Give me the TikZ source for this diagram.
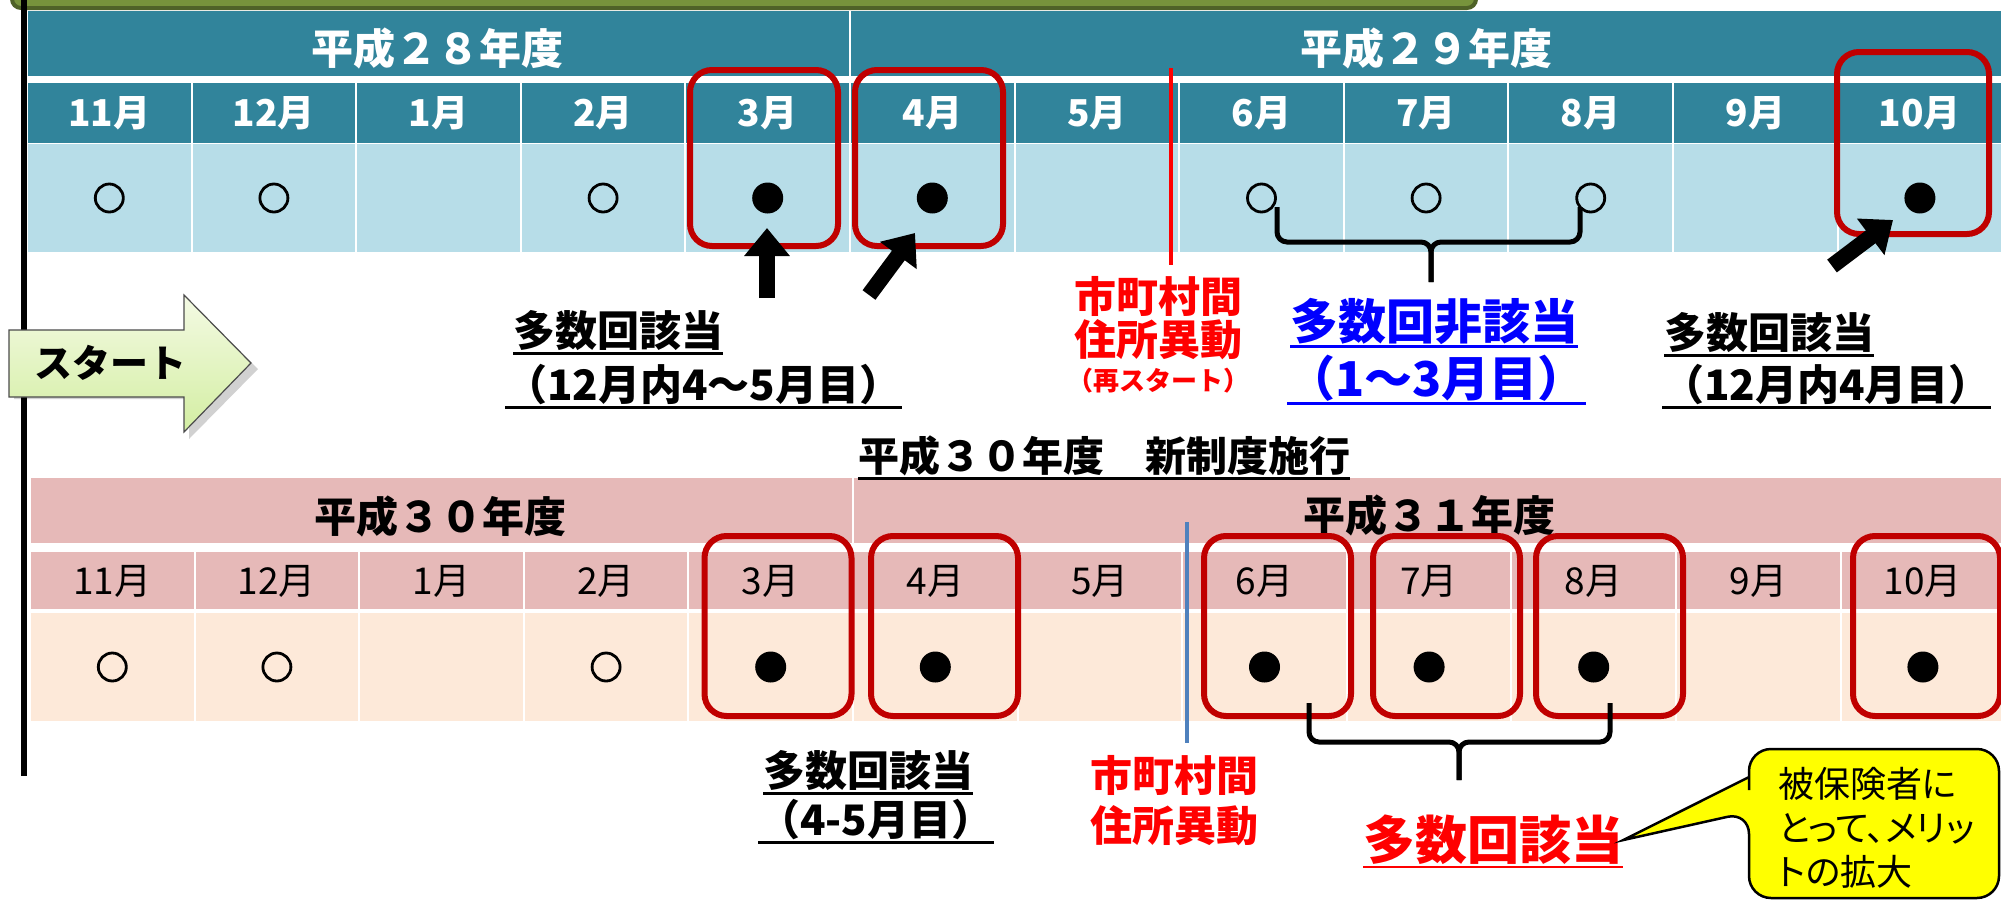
\documentclass[tikz,border=0pt]{standalone}
\usepackage{fontspec}
\setmainfont{Noto Sans CJK JP}
\newfontfamily\jpp{Noto Sans CJK JP}[RawFeature=+palt]
\usetikzlibrary{arrows.meta}
\definecolor{teal1}{HTML}{31849B}
\definecolor{ltblue}{HTML}{B7DDE8}
\definecolor{pink1}{HTML}{E6B9B8}
\definecolor{peach}{HTML}{FDE9D9}
\definecolor{boxred}{HTML}{C00000}
\definecolor{olive}{HTML}{77933C}
\definecolor{dkolive}{HTML}{4F6228}
\definecolor{steel}{HTML}{4F81BD}
\definecolor{txtblue}{HTML}{0000FF}
\definecolor{txtred}{HTML}{FF0000}
\definecolor{startA}{HTML}{F4FAE4}
\definecolor{startB}{HTML}{D3EEA2}
\definecolor{callout}{HTML}{FFFF00}
\newcommand{\fsz}[1]{\fontsize{#1}{#1}\selectfont}
\tikzset{
  redbox/.style={draw=boxred, line width=6pt, rounded corners=22pt, minimum width=148pt, minimum height=176pt, inner sep=0pt},
  openmark/.style={circle, draw, line width=2.8pt, minimum size=28pt, inner sep=0pt},
  fullmark/.style={circle, fill=black, minimum size=31pt, inner sep=0pt},
  topmonth/.style={font=\bfseries\fsz{37}, text=white, inner sep=0pt},
  botmonth/.style={font=\fsz{37}, inner sep=0pt},
  yearlbl/.style={font=\bfseries\fsz{42}, inner sep=0pt},
  lbl/.style={font=\bfseries\fsz{42}, inner sep=0pt, anchor=west},
  redlbl/.style={font=\bfseries\fsz{42}, text=txtred, inner sep=0pt},
  fat/.style={line width=16pt, -{Triangle[length=28pt,width=44pt]}},
  bracepath/.style={line width=5pt, rounded corners=10pt},
  uline/.style={line width=2.5pt},
}
\newcommand{\uline}[2][black]{\draw[uline,#1] ([yshift=-2pt]#2.south west) -- ([yshift=-2pt]#2.south east);}
\begin{document}
\begin{tikzpicture}[x=1pt,y=-1pt]
\useasboundingbox (0,0) rectangle (2001,900);
\clip (0,0) rectangle (2001,900);
% green bar
\filldraw[fill=olive, draw=dkolive, line width=4pt, rounded corners=9pt] (12,-30) rectangle (1476,8);
% top table
\fill[teal1] (28,11) rectangle (2001,76);
\fill[teal1] (28,83) rectangle (2001,143);
\fill[ltblue] (28,144) rectangle (2001,252);
\draw[white, line width=2pt] (850,11) -- (850,76);
\foreach \i in {1,...,11} \draw[white,line width=2pt] ({27+\i*164.6},83) -- ({27+\i*164.6},252);
\draw[white, line width=1.5pt] (28,143.5) -- (2001,143.5);
% bottom table
\fill[pink1] (31,478) rectangle (2001,543);
\fill[pink1] (31,552) rectangle (2001,609);
\fill[peach] (31,613) rectangle (2001,721);
\draw[white, line width=2pt] (853,478) -- (853,543);
\foreach \i in {1,...,11} \draw[white,line width=2pt] ({30+\i*164.6},552) -- ({30+\i*164.6},721);
\draw[white, line width=1.5pt] (31,611) -- (2001,611);
% year labels
\node[yearlbl, text=white] (y28) at (437,48) {平成２８年度};
\node[yearlbl, text=white] (y29) at (1426,48) {平成２９年度};
\node[yearlbl] (y30) at (440,516) {平成３０年度};
\node[yearlbl] (y31) at (1429,515) {平成３１年度};
% months
\foreach \m [count=\i from 0] in {11,12,1,2,3,4,5,6,7,8,9,10} {
  \node[topmonth] (tm\i) at ({27+(\i+0.5)*164.6},113) {{\m}月};
  \node[botmonth] (bm\i) at ({30+(\i+0.5)*164.6},581) {{\m}月};
}
% marks
\foreach \i in {0,1,3,7,8,9} \node[openmark] (to\i) at ({27+(\i+0.5)*164.6},198) {};
\foreach \i in {4,5,11} \node[fullmark] (tf\i) at ({27+(\i+0.5)*164.6},198) {};
\foreach \i in {0,1,3} \node[openmark] (bo\i) at ({30+(\i+0.5)*164.6},667) {};
\foreach \i in {4,5,7,8,9,11} \node[fullmark] (bf\i) at ({30+(\i+0.5)*164.6},667) {};
% red boxes
\node[redbox] (rt3) at (764,158) {};
\node[redbox] (rt4) at (929,158) {};
\node[redbox, minimum width=152pt, minimum height=182pt] (rt10) at (1913,143) {};
\foreach \n/\x in {3/778,4/944.5,6/1277.5,7/1446.5,8/1609.5,10/1926.5}
  \node[redbox, minimum width=147pt, minimum height=180pt] (rb\n) at (\x,626) {};
% vertical separators
\draw[txtred, line width=4pt] (1171,68) -- (1171,265);
\draw[steel, line width=4pt] (1187,522) -- (1187,743);
% black timeline
\draw[line width=6pt] (24,0) -- (24,776);
% fat arrows
\coordinate (a1s) at (767,298); \coordinate (a1e) at (767,228);
\coordinate (a2s) at (869,295); \coordinate (a2e) at (915,233);
\coordinate (a3s) at (1832,266); \coordinate (a3e) at (1893,220);
\draw[fat] (a1s) -- (a1e);
\draw[fat] (a2s) -- (a2e);
\draw[fat] (a3s) -- (a3e);
% braces
\draw[bracepath] (1277,207) -- (1277,242) -- (1431,242) -- (1431,282);
\draw[bracepath] (1580,207) -- (1580,242) -- (1431,242) -- (1431,282);
\draw[bracepath] (1309,703) -- (1309,742) -- (1459,742) -- (1459,780);
\draw[bracepath] (1610,703) -- (1610,742) -- (1459,742) -- (1459,780);
% start arrow
\fill[black, opacity=0.18] (14,336) -- (189,336) -- (189,301) -- (258,369) -- (189,439) -- (189,399) -- (14,399) -- cycle;
\shade[top color=startA, bottom color=startB, draw=black!70, line width=1.2pt]
  (9,330) -- (184,330) -- (184,295) -- (251,363) -- (184,432) -- (184,397) -- (9,397) -- cycle;
\node[font=\bfseries\fsz{38}, inner sep=0pt] (start) at (110,363) {スタート};
% labels top
\node[lbl] (l1a) at (513,331) {多数回該当};
\node[lbl] (l1b) at (505,385) {（12月内4～5月目）};
\uline{l1a} \uline{l1b}
\node[redlbl] (r1a) at (1158,296) {市町村間};
\node[redlbl] (r1b) at (1158,340) {住所異動};
\node[redlbl, font=\bfseries\fsz{26}] (r1c) at (1158,381) {（再スタート）};
\node[lbl, font=\bfseries\fsz{48}, text=txtblue] (b1a) at (1290,321) {多数回非該当};
\node[lbl, font=\bfseries\fsz{48}, text=txtblue] (b1b) at (1287,378) {（1～3月目）};
\uline[txtblue]{b1a} \uline[txtblue]{b1b}
\node[lbl] (l2a) at (1664,333) {多数回該当};
\node[lbl] (l2b) at (1662,385) {（12月内4月目）};
\uline{l2a} \uline{l2b}
\node[font=\bfseries\fsz{41}, inner sep=0pt] (ns) at (1104,456) {平成３０年度　新制度施行};
\uline{ns}
% labels bottom
\node[lbl] (l3a) at (763,771) {多数回該当};
\node[lbl] (l3b) at (758,820) {（4-5月目）};
\uline{l3a} \uline{l3b}
\node[redlbl] (r3a) at (1174,775) {市町村間};
\node[redlbl] (r3b) at (1174,826) {住所異動};
\node[lbl, font=\bfseries\fsz{52}, text=txtred] (r4) at (1363,840) {多数回該当};
\uline[txtred]{r4}
% callout
\filldraw[fill=callout, draw=black, line width=2.5pt]
  (1749,790) [rounded corners=22pt] -- (1749,749) -- (1999,749) -- (1999,898) -- (1749,898) -- (1749,812) [sharp corners] -- (r4.east) -- (1749,777) -- cycle;
\node[font=\jpp\fsz{36}, inner sep=0pt, anchor=west] (c1) at (1778,784) {被保険者に};
\node[font=\jpp\fsz{36}, inner sep=0pt, anchor=west] (c2) at (1778,829) {とって、メリッ};
\node[font=\jpp\fsz{36}, inner sep=0pt, anchor=west] (c3) at (1778,872) {トの拡大};
\end{tikzpicture}
\end{document}
